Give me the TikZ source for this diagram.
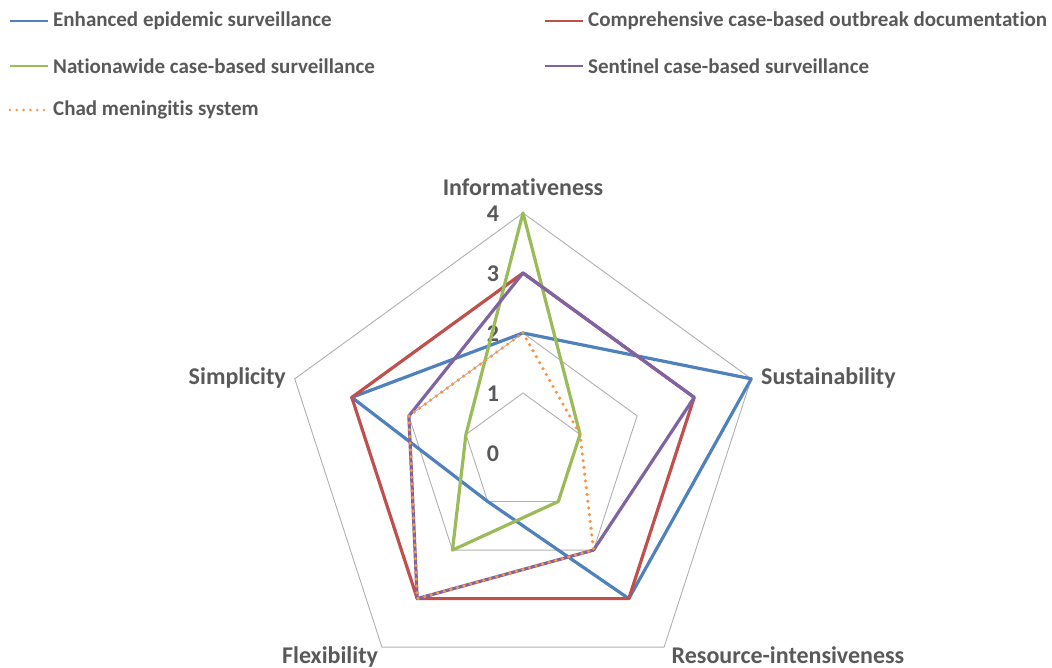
\documentclass[tikz,border=0pt]{standalone}
\usepackage{fontspec}
\setmainfont{Carlito}[Ligatures=NoCommon]
\definecolor{labgray}{HTML}{595959}
\definecolor{gridgray}{HTML}{B0B0B0}
\definecolor{serblue}{HTML}{4F81BD}
\definecolor{serred}{HTML}{C0504D}
\definecolor{sergreen}{HTML}{9BBB59}
\definecolor{serpurple}{HTML}{8064A2}
\definecolor{serorange}{HTML}{F79646}
\tikzset{
  gridline/.style={draw=gridgray, line width=0.9pt},
  series/.style={line width=3.2pt, line join=round},
  sblue/.style={series, draw=serblue},
  sred/.style={series, draw=serred},
  sgreen/.style={series, draw=sergreen},
  spurple/.style={series, draw=serpurple},
  sorange/.style={series, draw=serorange, line width=3.6pt, dash pattern=on 0pt off 6.8pt, line cap=round},
  lbl/.style={text=labgray, font=\bfseries\fontsize{21}{25}\selectfont, inner sep=0pt},
  axlbl/.style={text=labgray, font=\bfseries\fontsize{24}{28}\selectfont, inner sep=0pt},
  ticklbl/.style={text=labgray, font=\bfseries\fontsize{24}{28}\selectfont, inner sep=0pt},
}
\begin{document}
\begin{tikzpicture}[x=1pt,y=-1pt]
\useasboundingbox (0,0) rectangle (1052,668);
% axis points
\foreach \nm/\ang in {inf/90, sus/18, res/-54, fle/-126, sim/162} {
  \foreach \l in {0,...,4} {
    \coordinate (\nm\l) at ({523+\l*60*cos(\ang)}, {453-\l*60*sin(\ang)});
  }
}
% grid
\foreach \l in {1,...,4} {
  \draw[gridline] (inf\l) -- (sus\l) -- (res\l) -- (fle\l) -- (sim\l) -- cycle;
}
% tick labels
\foreach \l in {0,...,4} {
  \node[ticklbl] (tick\l) at (493, {454-60*\l}) {\l};
}
% axis labels
\node[axlbl] (Linf) at (523,187) {Informativeness};
\node[axlbl, anchor=west] (Lsus) at (761,378) {Sustainability};
\node[axlbl, anchor=east] (Lsim) at (286,378) {Simplicity};
\node[axlbl, anchor=base] (Lfle) at (330,663) {Flexibility};
\node[axlbl, anchor=base] (Lres) at (788,663) {Resource-intensiveness};
% series
\draw[sblue] (inf2) -- (sus4) -- (res3) -- (fle1) -- (sim3) -- cycle;
\draw[sred] (inf3) -- (sus3) -- (res3) -- (fle3) -- (sim3) -- cycle;
\draw[sgreen] (inf4) -- (sus1) -- (res1) -- (fle2) -- (sim1) -- cycle;
\draw[spurple] (inf3) -- (sus3) -- (res2) -- (fle3) -- (sim2) -- cycle;
\draw[sorange] (inf2) -- (sus1) -- (res2) -- (fle3) -- (sim2) -- cycle;
% legend
\coordinate (lg1a) at (10,21); \coordinate (lg1b) at (48,21);
\coordinate (lg2a) at (545,21); \coordinate (lg2b) at (583,21);
\coordinate (lg3a) at (10,66); \coordinate (lg3b) at (48,66);
\coordinate (lg4a) at (545,66); \coordinate (lg4b) at (583,66);
\coordinate (lg5a) at (10,110); \coordinate (lg5b) at (48,110);
\draw[sblue, line width=2.6pt] (lg1a) -- (lg1b);
\draw[sred, line width=2.6pt] (lg2a) -- (lg2b);
\draw[sgreen, line width=2.6pt] (lg3a) -- (lg3b);
\draw[spurple, line width=2.6pt] (lg4a) -- (lg4b);
\draw[sorange, line width=2.8pt] (lg5a) -- (lg5b);
\node[lbl, anchor=west] (t1) at (53,21) {Enhanced epidemic surveillance};
\node[lbl, anchor=west] (t2) at (588,21) {Comprehensive case-based outbreak documentation};
\node[lbl, anchor=west] (t3) at (53,66) {Nationawide case-based surveillance};
\node[lbl, anchor=west] (t4) at (588,66) {Sentinel case-based surveillance};
\node[lbl, anchor=west] (t5) at (53,110) {Chad meningitis system};
\end{tikzpicture}
\end{document}
